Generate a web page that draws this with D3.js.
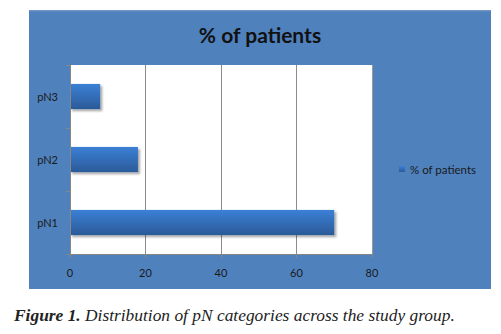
<!DOCTYPE html>
<html><head><meta charset="utf-8">
<script src="https://cdn.jsdelivr.net/npm/d3@7"></script>
<style>body{margin:0;background:#fff}svg{display:block}</style>
</head><body>
<script>
const categories = ["pN1", "pN2", "pN3"];
const values = [70, 18, 8];
const xTicks = [0, 20, 40, 60, 80];
const seriesName = "% of patients";
const titleText = "% of patients";

const W = 501, H = 334;
const svg = d3.select("body").append("svg").attr("width", W).attr("height", H);
const defs = svg.append("defs");
const grad = defs.append("linearGradient").attr("id", "bg").attr("x1", 0).attr("y1", 0).attr("x2", 0).attr("y2", 1);
grad.append("stop").attr("offset", "0%").attr("stop-color", "#3B80D6");
grad.append("stop").attr("offset", "100%").attr("stop-color", "#2B5A98");
const sh = defs.append("filter").attr("id", "sh").attr("x", "-10%").attr("y", "-20%").attr("width", "130%").attr("height", "160%");
sh.append("feDropShadow").attr("dx", 2).attr("dy", 2).attr("stdDeviation", 1.2).attr("flood-color", "#000").attr("flood-opacity", 0.35);

// chart box
svg.append("rect").attr("x", 29).attr("y", 10).attr("width", 462).attr("height", 279).attr("fill", "#4F81BD");
svg.append("rect").attr("x", 29).attr("y", 10).attr("width", 462).attr("height", 1.5).attr("fill", "#6F93C4");

const pl = 70, pr = 372, pt = 65, pb = 254;
const x = d3.scaleLinear().domain([0, 80]).range([pl, pr]);
const y = d3.scaleBand().domain(categories.slice().reverse()).range([pt, pb]).paddingInner(0.6).paddingOuter(0.3);
const yb = d3.scaleBand().domain(categories.slice().reverse()).range([pt, pb]);

svg.append("rect").attr("x", pl).attr("y", pt).attr("width", pr - pl).attr("height", pb - pt).attr("fill", "#fff");

// gridlines
svg.append("g").selectAll("line").data(xTicks.filter(t => t > 0 && t < 80)).join("line")
  .attr("x1", d => x(d)).attr("x2", d => x(d)).attr("y1", pt).attr("y2", pb)
  .attr("stroke", "#8c8c8c").attr("stroke-width", 1).attr("shape-rendering", "crispEdges");

// bars
svg.append("g").selectAll("rect").data(categories).join("rect")
  .attr("x", x(0)).attr("y", (d) => y(d))
  .attr("width", (d, i) => x(values[i]) - x(0)).attr("height", y.bandwidth())
  .attr("fill", "url(#bg)").attr("filter", "url(#sh)");

// y axis
const ya = svg.append("g").attr("transform", `translate(${pl},0)`);
ya.append("line").attr("x1", 0).attr("x2", 0).attr("y1", pt).attr("y2", pb).attr("stroke", "#868686").attr("shape-rendering", "crispEdges");
const yTickPos = [pt, ...categories.slice().reverse().map(c => yb(c) + yb.bandwidth())];
ya.selectAll("line.t").data(yTickPos).join("line").attr("class", "t")
  .attr("x1", -4).attr("x2", 0).attr("y1", d => d).attr("y2", d => d).attr("stroke", "#868686").attr("shape-rendering", "crispEdges");
ya.selectAll("text").data(categories).join("text")
  .attr("x", -12).attr("y", d => yb(d) + yb.bandwidth() / 2 + 4)
  .attr("text-anchor", "end").attr("font-family", "Lato, 'Open Sans', sans-serif").attr("font-size", 11).attr("fill", "#1a1a1a").text(d => d);

// x axis
const xa = svg.append("g").attr("transform", `translate(0,${pb})`);
xa.append("line").attr("x1", pl).attr("x2", pr).attr("y1", 0).attr("y2", 0).attr("stroke", "#868686").attr("shape-rendering", "crispEdges");
xa.selectAll("line.t").data(xTicks).join("line").attr("class", "t")
  .attr("x1", d => x(d)).attr("x2", d => x(d)).attr("y1", 0).attr("y2", 4).attr("stroke", "#868686").attr("shape-rendering", "crispEdges");
xa.selectAll("text").data(xTicks).join("text")
  .attr("x", d => x(d)).attr("y", 23).attr("text-anchor", "middle")
  .attr("font-family", "Lato, 'Open Sans', sans-serif").attr("font-size", 11).attr("fill", "#1a1a1a").text(d => d);
// right edge line
svg.append("line").attr("x1", pr).attr("x2", pr).attr("y1", pt).attr("y2", pb).attr("stroke", "#9a9a9a").attr("shape-rendering", "crispEdges");

// title
svg.append("text").attr("x", 260).attr("y", 43).attr("text-anchor", "middle")
  .attr("font-family", "Lato, 'Open Sans', sans-serif").attr("font-weight", "bold").attr("font-size", 21).attr("fill", "#111").text(titleText);

// legend
svg.append("rect").attr("x", 399).attr("y", 166).attr("width", 6).attr("height", 6).attr("fill", "url(#bg)");
svg.append("text").attr("x", 410).attr("y", 173.5).attr("font-family", "Lato, 'Open Sans', sans-serif").attr("font-size", 11.5).attr("fill", "#1a1a1a").text(seriesName);

// caption
const cap = svg.append("text").attr("x", 14).attr("y", 321)
  .attr("font-family", "'Liberation Serif', 'DejaVu Serif', serif").attr("font-style", "italic").attr("font-size", 17.4).attr("fill", "#222");
cap.append("tspan").attr("font-weight", "bold").text("Figure 1.");
cap.append("tspan").text(" Distribution of pN categories across the study group.");
</script>
</body></html>
